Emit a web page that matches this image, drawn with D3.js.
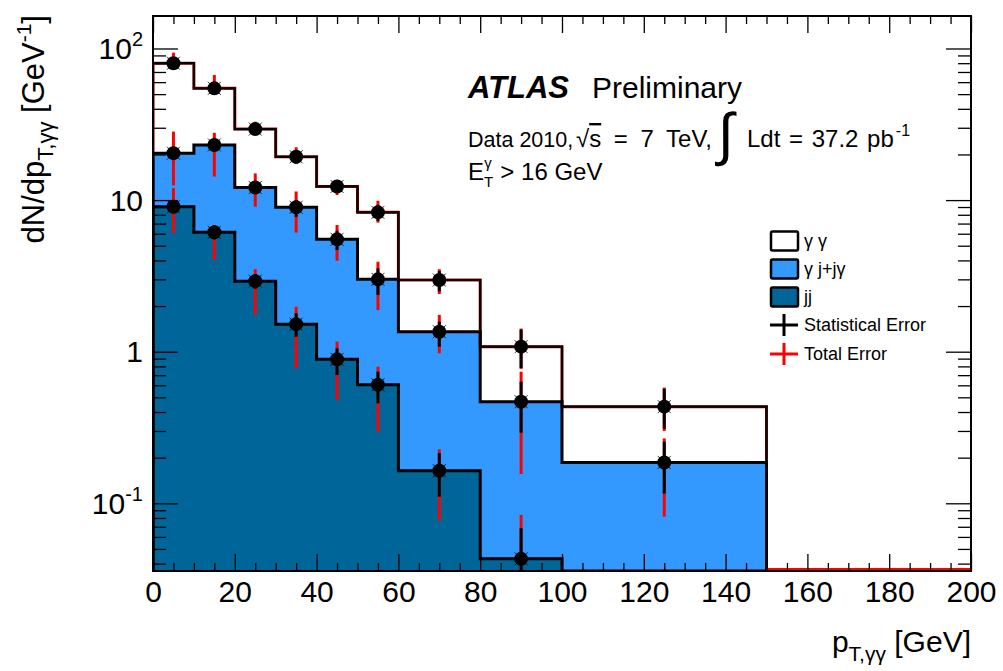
<!DOCTYPE html>
<html>
<head>
<meta charset="utf-8">
<script src="https://cdn.jsdelivr.net/npm/d3@7/dist/d3.min.js"></script>
<style>
  html, body { margin: 0; padding: 0; background: #fff; }
  svg { display: block; font-family: "Liberation Sans", Arial, Helvetica, sans-serif; }
</style>
</head>
<body>
<svg id="chart" width="1003" height="671"></svg>
<script>
// ---------------- data ----------------
const binEdges   = [0, 10, 20, 30, 40, 50, 60, 80, 100, 150];
const binCenters = [5, 15, 25, 35, 45, 55, 70, 90, 125];

// stacked totals (γγ + γj + jj), (γj + jj), (jj)
const totalVals = [80, 54.6, 29.4, 19.3, 12.3, 8.3, 2.97, 1.08, 0.434];
const gjVals    = [20.4, 23.1, 12.1, 8.97, 5.51, 3.0, 1.355, 0.468, 0.186];
const jjVals    = [9.04, 6.13, 2.92, 1.52, 0.89, 0.605, 0.164, 0.043, 0];

// error bands [low, high]
const totalStat = [[76, 84], [52, 57.5], [28, 31], [17.5, 21.3], [11.2, 13.4], [7.3, 9.3], [2.5, 3.4], [0.78, 1.40], [0.31, 0.57]];
const totalTot  = [[74, 93.8], [50, 66.9], [27.5, 32.9], [17.3, 22.3], [10.8, 13.6], [7.1, 9.9], [2.4, 3.5], [0.77, 1.42], [0.30, 0.58]];
const gjStat    = [[18.5, 22.5], [21, 25.5], [11.2, 13.2], [7.77, 10.0], [4.69, 6.28], [2.37, 3.55], [1.08, 1.58], [0.292, 0.634], [0.116, 0.255]];
const gjTot     = [[12.5, 28.3], [14.3, 27.8], [9.04, 15.0], [6.1, 11.4], [3.98, 6.85], [1.88, 3.92], [0.976, 1.75], [0.156, 0.738], [0.0816, 0.268]];
const jjStat    = [[8.2, 9.9], [5.5, 6.7], [2.6, 3.25], [1.256, 1.79], [0.702, 1.05], [0.457, 0.738], [0.1106, 0.214], [0.0176, 0.0684], null];
const jjTot     = [[6.04, 12.0], [4.03, 6.85], [1.75, 3.5], [0.777, 1.98], [0.48, 1.164], [0.297, 0.796], [0.0768, 0.227], [0.0023, 0.0837], null];

const xMajorTicks = [0, 20, 40, 60, 80, 100, 120, 140, 160, 180, 200];
const yMajorTicks = [0.1, 1, 10, 100];
const yTickLabels = [["10", "-1"], ["1", ""], ["10", ""], ["10", "2"]];

const legendLabels = ["γ γ", "γ j+jγ", "jj", "Statistical Error", "Total Error"];

// ---------------- layout ----------------
const L = 153, R = 971, T = 16, B = 571;
const colWhite = "#ffffff", colLight = "#3399ff", colDark = "#006699";

const svg = d3.select("#chart");
const x = d3.scaleLinear().domain([0, 200]).range([L, R]);
const y = d3.scaleLog().domain([0.03576, 163.8]).range([B, T]);
const yMin = y.domain()[0];

svg.append("defs").append("clipPath").attr("id", "clip")
  .append("rect").attr("x", L).attr("y", T).attr("width", R - L).attr("height", B - T);

const plot = svg.append("g").attr("clip-path", "url(#clip)");

function histPoints(vals) {
  const pts = [[binEdges[0], yMin]];
  vals.forEach((v, i) => pts.push([binEdges[i], Math.max(v, yMin)]));
  pts.push([binEdges[binEdges.length - 1], Math.max(vals[vals.length - 1], yMin)]);
  pts.push([binEdges[binEdges.length - 1], yMin]);
  return pts;
}
const area = d3.area().curve(d3.curveStepAfter)
  .x(d => x(d[0])).y0(y(yMin)).y1(d => y(d[1]));
const line = d3.line().curve(d3.curveStepAfter)
  .x(d => x(d[0])).y(d => y(d[1]));

// fills
[[totalVals, colWhite], [gjVals, colLight], [jjVals, colDark]].forEach(([vals, c]) => {
  plot.append("path").attr("d", area(histPoints(vals))).attr("fill", c);
});
// outlines
plot.append("path").attr("d", line(histPoints(totalVals))).attr("fill", "none")
  .attr("stroke", "#c00000").attr("stroke-width", 3);
plot.append("path").attr("d", line(histPoints(totalVals))).attr("fill", "none")
  .attr("stroke", "#000").attr("stroke-width", 2.2);
[gjVals, jjVals].forEach(vals => {
  plot.append("path").attr("d", line(histPoints(vals))).attr("fill", "none")
    .attr("stroke", "#000").attr("stroke-width", 3);
});
// empty region 150-200 (red error line at floor)
plot.append("line").attr("x1", x(150)).attr("x2", x(200)).attr("y1", y(yMin) - 1.5).attr("y2", y(yMin) - 1.5)
  .attr("stroke", "#ff0000").attr("stroke-width", 3);

// error bars
function errBars(tot, stat) {
  binCenters.forEach((c, i) => {
    if (tot[i]) plot.append("line").attr("x1", x(c)).attr("x2", x(c))
      .attr("y1", y(Math.max(tot[i][0], 1e-4))).attr("y2", y(tot[i][1]))
      .attr("stroke", "#ff0000").attr("stroke-width", 3);
    if (stat[i]) plot.append("line").attr("x1", x(c)).attr("x2", x(c))
      .attr("y1", y(Math.max(stat[i][0], 1e-4))).attr("y2", y(stat[i][1]))
      .attr("stroke", "#000").attr("stroke-width", 3);
  });
}
errBars(totalTot, totalStat);
errBars(gjTot, gjStat);
errBars(jjTot, jjStat);

// markers
function markers(vals) {
  binCenters.forEach((c, i) => {
    if (!(vals[i] > 0)) return;
    const cx = x(c), cy = y(vals[i]);
    const g = plot.append("g");
    g.append("circle").attr("cx", cx).attr("cy", cy).attr("r", 7).attr("fill", "#000");
    [[1, 1], [1, -1], [-1, 1], [-1, -1]].forEach(([sx, sy]) => {
      g.append("line").attr("x1", cx + sx * 4.5).attr("y1", cy + sy * 4.5)
        .attr("x2", cx + sx * 6.5).attr("y2", cy + sy * 6.5)
        .attr("stroke", "#000").attr("stroke-width", 0.8);
    });
  });
}
markers(totalVals);
markers(gjVals);
markers(jjVals);

// ---------------- axes ----------------
const xMinor = d3.range(0, 201, 5).filter(v => v % 20 !== 0);
function styleAxis(g) {
  g.select(".domain").remove();
  g.selectAll(".tick line").attr("stroke", "#000").attr("stroke-width", 1.3);
}
svg.append("g").attr("transform", `translate(0,${B})`)
  .call(d3.axisBottom(x).tickValues(xMajorTicks).tickSize(-17).tickPadding(10).tickFormat(d3.format("d")))
  .call(styleAxis)
  .call(g => g.selectAll("text").attr("font-size", 30).attr("fill", "#000")
    .attr("font-family", "Liberation Sans, Arial, sans-serif"));
svg.append("g").attr("transform", `translate(0,${B})`)
  .call(d3.axisBottom(x).tickValues(xMinor).tickSize(-8).tickFormat(""))
  .call(styleAxis);
svg.append("g").attr("transform", `translate(0,${T})`)
  .call(d3.axisTop(x).tickValues(xMajorTicks).tickSize(-17).tickFormat(""))
  .call(styleAxis);
svg.append("g").attr("transform", `translate(0,${T})`)
  .call(d3.axisTop(x).tickValues(xMinor).tickSize(-8).tickFormat(""))
  .call(styleAxis);

const yMinor = [];
[0.01, 0.1, 1, 10, 100].forEach(d => { for (let k = 2; k <= 9; k++) { const v = d * k; if (v > y.domain()[0] && v < y.domain()[1]) yMinor.push(v); } });
svg.append("g").attr("transform", `translate(${L},0)`)
  .call(d3.axisLeft(y).tickValues(yMajorTicks).tickSize(-25).tickFormat(""))
  .call(styleAxis);
svg.append("g").attr("transform", `translate(${L},0)`)
  .call(d3.axisLeft(y).tickValues(yMinor).tickSize(-13).tickFormat(""))
  .call(styleAxis);
svg.append("g").attr("transform", `translate(${R},0)`)
  .call(d3.axisRight(y).tickValues(yMajorTicks).tickSize(-25).tickFormat(""))
  .call(styleAxis);
svg.append("g").attr("transform", `translate(${R},0)`)
  .call(d3.axisRight(y).tickValues(yMinor).tickSize(-13).tickFormat(""))
  .call(styleAxis);

// y tick labels with superscripts
yMajorTicks.forEach((v, i) => {
  const [base, sup] = yTickLabels[i];
  const t = svg.append("text").attr("x", 143).attr("y", y(v)).attr("dy", "0.36em")
    .attr("text-anchor", "end").attr("font-size", 30).attr("fill", "#000");
  t.append("tspan").text(base);
  if (sup) t.append("tspan").attr("font-size", 20).attr("dy", -13).text(sup);
});

// frame
svg.append("rect").attr("x", L).attr("y", T).attr("width", R - L).attr("height", B - T)
  .attr("fill", "none").attr("stroke", "#000").attr("stroke-width", 2);

// ---------------- titles ----------------
const yt = svg.append("text").attr("transform", `translate(44,15) rotate(-90)`)
  .attr("text-anchor", "end").attr("font-size", 31).attr("fill", "#000");
yt.append("tspan").text("dN/dp");
yt.append("tspan").attr("font-size", 22).attr("dy", 9).text("T,γγ");
yt.append("tspan").attr("dy", -9).text(" [GeV");
yt.append("tspan").attr("font-size", 21).attr("dy", -13).text("-1");
yt.append("tspan").attr("dy", 13).text("]");

const xt = svg.append("text").attr("x", R).attr("y", 652)
  .attr("text-anchor", "end").attr("font-size", 30).attr("fill", "#000");
xt.append("tspan").text("p");
xt.append("tspan").attr("font-size", 21).attr("dy", 9).text("T,γγ");
xt.append("tspan").attr("dy", -9).text(" [GeV]");

// ATLAS label
svg.append("text").attr("x", 468).attr("y", 98).attr("font-size", 31)
  .attr("font-weight", "bold").attr("font-style", "italic").attr("fill", "#000").text("ATLAS");
svg.append("text").attr("x", 592).attr("y", 98).attr("font-size", 30).attr("fill", "#000").text("Preliminary");

svg.append("text").attr("x", 468).attr("y", 147).attr("font-size", 21.5).attr("fill", "#000")
  .text("Data 2010,");
const sq = svg.append("text").attr("x", 576).attr("y", 147).attr("font-size", 24).attr("fill", "#000")
  .attr("word-spacing", 6);
sq.append("tspan").text("√");
sq.append("tspan").attr("text-decoration", "overline").text("s");
sq.append("tspan").text(" = 7 TeV,");
svg.append("text").attr("x", 718).attr("y", 154).attr("font-size", 58)
  .attr("font-family", "DejaVu Sans, sans-serif").attr("font-weight", 300)
  .attr("fill", "#000").text("∫");
const ld = svg.append("text").attr("x", 747).attr("y", 147).attr("font-size", 24).attr("fill", "#000")
  .attr("word-spacing", 2);
ld.append("tspan").text("Ldt = 37.2 pb");
ld.append("tspan").attr("font-size", 16).attr("dy", -11).attr("dx", 2).text("-1");

const et = svg.append("text").attr("x", 468).attr("y", 180).attr("font-size", 24).attr("fill", "#000");
et.append("tspan").text("E");
et.append("tspan").attr("font-size", 15).attr("dy", 7).text("T");
et.append("tspan").attr("font-size", 15).attr("dx", -9).attr("dy", -19).text("γ");
et.append("tspan").attr("dy", 12).attr("dx", 2).text(" > 16 GeV");

// ---------------- legend ----------------
const legFills = [colWhite, colLight, colDark];
const legY = [241, 269, 297, 325, 354];
legFills.forEach((c, i) => {
  svg.append("rect").attr("x", 771).attr("y", legY[i] - 9.5).attr("width", 27).attr("height", 19)
    .attr("rx", 1.5).attr("fill", c).attr("stroke", "#000").attr("stroke-width", 2.5);
});
[["#000", 3], ["#ff0000", 4]].forEach(([c, i]) => {
  svg.append("line").attr("x1", 770).attr("x2", 798).attr("y1", legY[i]).attr("y2", legY[i])
    .attr("stroke", c).attr("stroke-width", 3);
  svg.append("line").attr("x1", 784).attr("x2", 784).attr("y1", legY[i] - 11).attr("y2", legY[i] + 11)
    .attr("stroke", c).attr("stroke-width", 3);
});
legendLabels.forEach((t, i) => {
  svg.append("text").attr("x", 804).attr("y", legY[i]).attr("dy", "0.35em")
    .attr("font-size", 18).attr("fill", "#000").text(t);
});
</script>
</body>
</html>
